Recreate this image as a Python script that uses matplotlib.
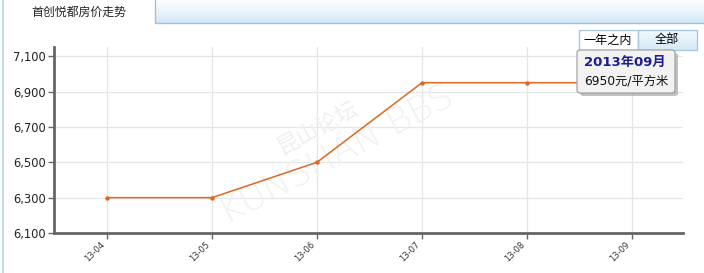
import numpy as np
import matplotlib
matplotlib.use('Agg')
import matplotlib.pyplot as plt
from matplotlib.patches import Rectangle, FancyBboxPatch

plt.rcParams['font.family'] = ['DejaVu Sans', 'Noto Sans CJK SC']

# data
months = ['13-04', '13-05', '13-06', '13-07', '13-08', '13-09']
prices = [6300, 6300, 6500, 6950, 6950, 6950]
yticks = [6100, 6300, 6500, 6700, 6900, 7100]
title = '首创悦都房价走势'
tip_month = '2013年09月'
tip_value = '6950元/平方米'

W, H = 704, 273
fig = plt.figure(figsize=(W / 100, H / 100), dpi=100)
fig.patch.set_facecolor('white')

# main plot area
ax = fig.add_axes([54 / W, 1 - 233 / H, (683 - 54) / W, (233 - 47) / H])
x = np.arange(len(months))
ax.plot(x, prices, color='#e0671f', lw=1.1, marker='o', ms=3.2,
        markeredgewidth=0, zorder=3)
ax.set_xlim(-0.505, 5.486)
ax.set_ylim(6100, 7152)
ax.set_xticks(x)
ax.set_xticklabels(months, rotation=45, ha='right', fontsize=6, color='#333333')
ax.set_yticks(yticks)
ax.set_yticklabels(['{:,}'.format(v) for v in yticks], fontsize=8.3, color='#222222')
ax.grid(True, color='#e6e6e6', lw=0.9)
ax.set_axisbelow(True)
for side in ['top', 'right']:
    ax.spines[side].set_visible(False)
for side in ['left', 'bottom']:
    ax.spines[side].set_color('#666666')
    ax.spines[side].set_linewidth(2)
ax.tick_params(axis='both', color='#666666', length=4, width=1, pad=2)
ax.tick_params(axis='x', pad=1)

# faint watermark
ax.text(0.42, 0.57, '昆山论坛', transform=ax.transAxes, rotation=28,
        fontsize=16, color='#efefef', family=['Noto Sans CJK SC'], ha='center',
        va='center', zorder=1)
ax.text(0.45, 0.42, 'KUNSHAN BBS', transform=ax.transAxes, rotation=28,
        fontsize=26, color='#f1f1f1', ha='center', va='center', zorder=1,
        fontweight='light')

# overlay in pixel coordinates for the frame, tabs and tooltip
ov = fig.add_axes([0, 0, 1, 1], zorder=5)
ov.set_xlim(0, W)
ov.set_ylim(H, 0)
ov.axis('off')
ov.patch.set_alpha(0)

# left border line
ov.plot([3, 3], [0, H], color='#b8d6e6', lw=1.2)
# header gradient
grad = np.linspace(0, 1, 50).reshape(-1, 1)
ov.imshow(grad, extent=[155, W, 23, 0], cmap=matplotlib.colors.LinearSegmentedColormap.from_list(
    'hdr', ['#ffffff', '#d3e8f7']), aspect='auto', zorder=1)
ov.plot([155, 155, W], [0, 23, 23], color='#9fc0d6', lw=1, zorder=2)
ov.text(79, 12, title, fontsize=8.6, family=['Noto Sans CJK SC'], ha='center',
        va='center', color='#222222')

# range buttons
ov.add_patch(Rectangle((579, 30), 59, 20, facecolor='white', edgecolor='#a9c9dd', lw=1, zorder=3))
ov.imshow(grad, extent=[638, 697, 50, 30], cmap=matplotlib.colors.LinearSegmentedColormap.from_list(
    'btn', ['#f3f9fd', '#d6eaf7']), aspect='auto', zorder=3)
ov.add_patch(Rectangle((638, 30), 59, 20, facecolor='none', edgecolor='#a9c9dd', lw=1, zorder=4))
ov.text(608, 40, '一年之内', fontsize=8.7, family=['Noto Sans CJK SC'], ha='center', va='center')
ov.text(667, 40, '全部', fontsize=8.7, family=['Noto Sans CJK SC'], ha='center', va='center')

# tooltip with shadow
ov.add_patch(FancyBboxPatch((580, 53), 98, 43, boxstyle='round,pad=0,rounding_size=3',
                            facecolor='#9a9a9a', edgecolor='none', alpha=0.6, zorder=5))
ov.add_patch(FancyBboxPatch((577, 50), 98, 43, boxstyle='round,pad=0,rounding_size=3',
                            facecolor='#f2f2f2', edgecolor='#9a9a9a', lw=0.8, zorder=6))
ov.text(584, 62, tip_month, fontsize=9.5, fontweight='bold', color='#1c1c96',
        family=['DejaVu Sans', 'Noto Sans CJK SC'], va='center', zorder=7)
ov.text(584, 81, tip_value, fontsize=8.8, color='#111111',
        family=['DejaVu Sans', 'Noto Sans CJK SC'], va='center', zorder=7)

fig.savefig('out.png', dpi=100)
